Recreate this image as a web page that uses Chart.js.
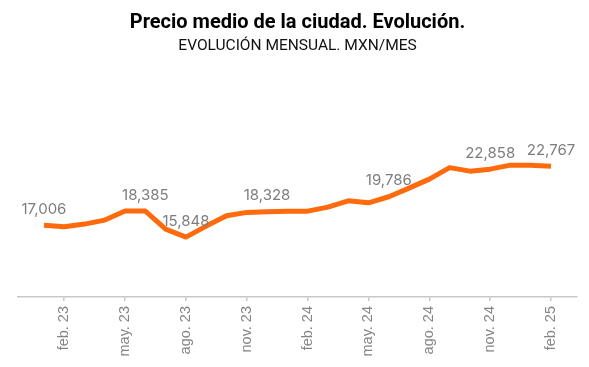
<!DOCTYPE html>
<html>
<head>
<meta charset="utf-8">
<script src="https://cdn.jsdelivr.net/npm/chart.js@4.4.1/dist/chart.umd.min.js"></script>
<style>
  html, body { margin: 0; padding: 0; background: #fff; }
  #wrap { width: 589px; height: 367px; }
</style>
</head>
<body>
<div id="wrap"><canvas id="chartPrecio"></canvas></div>
<script>
// meses ene.23 .. feb.25
const meses = ['ene. 23','feb. 23','mar. 23','abr. 23','may. 23','jun. 23','jul. 23','ago. 23','sep. 23','oct. 23','nov. 23','dic. 23',
  'ene. 24','feb. 24','mar. 24','abr. 24','may. 24','jun. 24','jul. 24','ago. 24','sep. 24','oct. 24','nov. 24','dic. 24',
  'ene. 25','feb. 25'];
const precios = [17006,16854,17118,17508,18390,18385,16630,15848,16923,17927,18258,18328,
  18380,18380,18775,19390,19194,19786,20628,21505,22626,22285,22480,22870,22870,22767];
// meses con etiqueta en el eje
const mesesEje = [1,4,7,10,13,16,19,22,25];
// puntos con etiqueta de valor
const etiquetasIdx = [0,5,7,11,17,22,25];
const etiquetasTxt = ['17,006','18,385','15,848','18,328','19,786','22,858','22,767'];

const etiquetasPlugin = {
  id: 'etiquetas',
  afterDatasetsDraw(chart) {
    const meta = chart.getDatasetMeta(0);
    const ctx = chart.ctx;
    ctx.save();
    ctx.font = '15px Inter';
    ctx.fillStyle = '#7d7d7d';
    ctx.textAlign = 'center';
    ctx.textBaseline = 'middle';
    etiquetasIdx.forEach((idx, k) => {
      const p = meta.data[idx];
      ctx.fillText(etiquetasTxt[k], p.x, p.y - 16);
    });
    ctx.restore();
  }
};

const ctx = document.getElementById('chartPrecio').getContext('2d');
const chart = new Chart(ctx, {
  type: 'line',
  data: {
    datasets: [{
      label: 'Precio medio',
      data: precios.map((v, i) => ({x: i, y: v})),
      borderColor: '#ff6a0d',
      borderWidth: 5,
      borderJoinStyle: 'round',
      pointRadius: 0,
      tension: 0,
      fill: false
    }]
  },
  options: {
    responsive: true,
    maintainAspectRatio: false,
    animation: false,
    layout: { padding: { top: 0, left: 18, right: 12, bottom: 0 } },
    plugins: {
      legend: { display: false },
      tooltip: { enabled: false },
      title: {
        display: true,
        text: 'Precio medio de la ciudad. Evolución.',
        color: '#000',
        font: { family: 'Roboto', size: 20, weight: 'bold', lineHeight: 1.2 },
        padding: { top: 11, bottom: 2 }
      },
      subtitle: {
        display: true,
        text: 'EVOLUCIÓN MENSUAL. MXN/MES',
        color: '#111',
        font: { family: 'Roboto', size: 15.5, lineHeight: 1.2 },
        padding: { top: 0, bottom: 57 }
      }
    },
    scales: {
      x: {
        type: 'linear',
        min: -1.28,
        max: 26.28,
        afterBuildTicks: (s) => { s.ticks = mesesEje.map(v => ({value: v})); },
        afterFit: (s) => { s.height = 70; },
        ticks: {
          autoSkip: false,
          minRotation: 90,
          maxRotation: 90,
          padding: 5,
          color: '#858585',
          font: { family: 'Liberation Sans', size: 14.5 },
          callback: (v) => meses[v]
        },
        grid: { drawOnChartArea: false, tickLength: 4, color: '#c8c8c8', lineWidth: 1.5 },
        border: { color: '#c8c8c8', width: 1.5 }
      },
      y: {
        display: false,
        min: 10000,
        max: 28000
      }
    }
  },
  plugins: [etiquetasPlugin]
});
</script>
</body>
</html>
